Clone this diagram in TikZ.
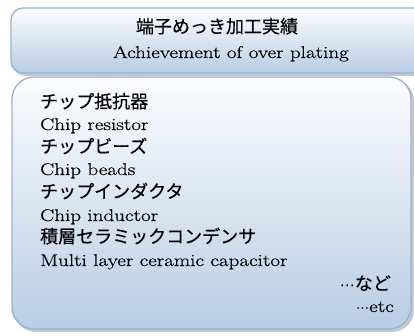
\documentclass[tikz,border=0pt]{standalone}
\usepackage{fontspec}
\setmainfont{Latin Modern Roman}[FakeStretch=1.24,FakeBold=0.5]
\newfontfamily\jpfont{Noto Sans CJK JP}[FakeBold=0.4]
\newfontfamily\symfont{DejaVu Sans}
\usetikzlibrary{positioning}
\definecolor{boxline}{HTML}{95B3D7}
\definecolor{boxlow}{HTML}{B9CDE5}
\definecolor{boxhigh}{HTML}{FCFDFE}
\definecolor{boxshade}{HTML}{9A9A9A}
\tikzset{
	panel/.style={draw=boxline,line width=1.3pt,top color=boxhigh,bottom color=boxlow},
	panelshadow/.style={fill=boxshade,opacity=0.55},
	jp/.style={font=\jpfont\fontsize{18}{20}\selectfont,inner sep=0pt},
	en/.style={font=\fontsize{17}{19}\selectfont,inner sep=0pt}
}

\begin{document}
\begin{tikzpicture}[x=1pt,y=-1pt]
	\useasboundingbox (0,0) rectangle (414,336);
	\clip (0,0) rectangle (414,336);
	% title panel
	\fill[panelshadow,rounded corners=12] (13,10) rectangle (428,76);
	\draw[panel,rounded corners=12] (11,8) rectangle (426,73);
	\node[jp,anchor=base] (titlejp) at (217,33) {端子めっき加工実績};
	\node[en,anchor=base] (titleen) at (231,58) {Achievement of over plating};
	% list panel
	\fill[panelshadow,rounded corners=22] (14,79) rectangle (414,332);
	\draw[panel,rounded corners=22] (12,77) rectangle (411,329);
	\node[jp,anchor=base west] (resjp) at (40,108) {チップ抵抗器};
	\node[en,anchor=base west] (resen) at (40,130) {Chip resistor};
	\node[jp,anchor=base west] (beadjp) at (40,153) {チップビーズ};
	\node[en,anchor=base west] (beaden) at (40,175) {Chip beads};
	\node[jp,anchor=base west] (indjp) at (40,198) {チップインダクタ};
	\node[en,anchor=base west] (inden) at (40,221) {Chip inductor};
	\node[jp,anchor=base west] (capjp) at (40,243) {積層セラミックコンデンサ};
	\node[en,anchor=base west] (capen) at (40,266) {Multi layer ceramic capacitor};
	\node[jp,anchor=base east] (etcjp) at (391,290) {{\symfont\fontsize{15}{17}\selectfont ⋯}など};
	\node[en,anchor=base east] (etcen) at (394,312) {{\symfont\fontsize{13}{15}\selectfont ⋯}etc};
\end{tikzpicture}
\end{document}
